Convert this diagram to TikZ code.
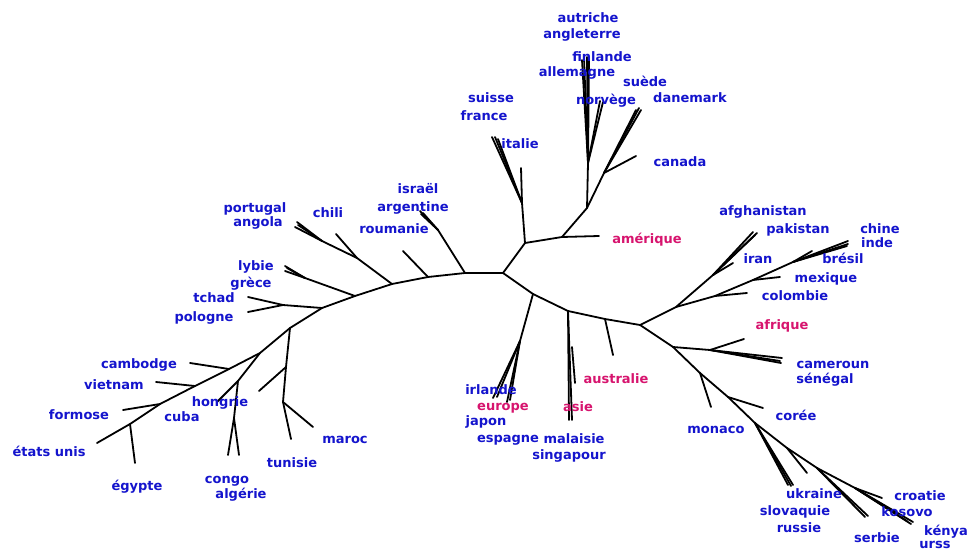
\documentclass[tikz,border=0pt]{standalone}
\usepackage{fontspec}
\setmainfont{DejaVu Sans}
\definecolor{lblue}{RGB}{20,20,205}
\definecolor{lmag}{RGB}{215,20,110}
\begin{document}
\begin{tikzpicture}[x=1pt,y=-1pt,
  br/.style={line width=1.8pt,black,line cap=round,line join=round},
  lbl/.style={text=lblue,font=\fontsize{13}{14}\selectfont\bfseries,inner sep=0pt,anchor=center,text height=9.5pt,text depth=0.5pt},
  grp/.style={lbl,text=lmag}]
\fill[white] (0,0) rectangle (971,551);
\useasboundingbox (0,0) rectangle (971,551);
% ---------- tree vertices ----------
\coordinate (c0) at (503,273);
% left arc
\coordinate (l1) at (465,273);
\coordinate (l1a) at (438,230);
\coordinate (tisr) at (420,211); \coordinate (targ) at (423,213); \coordinate (targb) at (421,214);
\coordinate (l2) at (428,277); \coordinate (trou) at (403,251);
\coordinate (l3) at (392,284);
\coordinate (l3a) at (357,258); \coordinate (tchi) at (336,234);
\coordinate (l3b) at (322,241);
\coordinate (tpor) at (297,222); \coordinate (tang) at (295,227); \coordinate (tangb) at (298,225);
\coordinate (l4) at (355,296);
\coordinate (l4a) at (305,278);
\coordinate (tlyb) at (285,266); \coordinate (tgre) at (285,271); \coordinate (tgreb) at (287,268);
\coordinate (l5) at (322,308);
\coordinate (l5a) at (283,305);
\coordinate (ttch) at (248,297); \coordinate (tpol) at (248,312);
\coordinate (l6) at (290,328);
\coordinate (v1) at (286,367); \coordinate (tv1) at (259,391);
\coordinate (v2) at (283,402);
\coordinate (ttun) at (291,439); \coordinate (tmar) at (313,427);
\coordinate (l7) at (260,353);
\coordinate (h1) at (238,381); \coordinate (thon) at (217,402);
\coordinate (h2) at (234,418);
\coordinate (tcon) at (228,455); \coordinate (talg) at (239,455);
\coordinate (l8) at (229,369); \coordinate (tcam) at (190,363);
\coordinate (l9) at (195,386); \coordinate (tvie) at (156,382);
\coordinate (l10) at (160,404); \coordinate (tfor) at (123,410);
\coordinate (l11) at (130,424); \coordinate (tegy) at (135,463);
\coordinate (tetu) at (97,443);
% upper
\coordinate (u1) at (525,243);
\coordinate (u2) at (522,203); \coordinate (tu2) at (521,168);
\coordinate (tsui) at (492,137); \coordinate (tfra) at (495,137); \coordinate (tita) at (498,139);
\coordinate (u3) at (562,237); \coordinate (tame) at (599,236);
\coordinate (u4) at (587,208);
\coordinate (u5) at (588,163);
\coordinate (taut) at (584,58); \coordinate (tang2) at (587,57); \coordinate (tfin) at (589,59); \coordinate (tall) at (582,60);
\coordinate (tnor) at (600,101); \coordinate (tnorb) at (603,102);
\coordinate (u6) at (604,173); \coordinate (tcan) at (636,156);
\coordinate (tsue) at (636,110); \coordinate (tdan) at (639,108); \coordinate (tdanb) at (641,110);
% lower right
\coordinate (r1) at (533,294);
\coordinate (r1a) at (520,341);
\coordinate (tirl) at (493,398); \coordinate (tjap) at (497,397); \coordinate (tesp) at (507,402); \coordinate (tespb) at (510,400);
\coordinate (r2) at (568,311);
\coordinate (r2a) at (572,347); \coordinate (tr2a) at (575,383);
\coordinate (tmal) at (569,420); \coordinate (tsin) at (572,420);
\coordinate (r3) at (605,319); \coordinate (taus) at (613,355);
\coordinate (r4) at (640,325);
\coordinate (a1) at (676,307);
\coordinate (a2) at (713,275); \coordinate (tira) at (733,263);
\coordinate (tafg) at (753,232); \coordinate (tpak) at (757,233); \coordinate (tpakb) at (755,235);
\coordinate (b1) at (715,296); \coordinate (tcol) at (747,293);
\coordinate (b2) at (753,280); \coordinate (tmex) at (780,277);
\coordinate (b3) at (793,262); \coordinate (tbre) at (812,251);
\coordinate (tchn) at (848,241); \coordinate (tind) at (848,244); \coordinate (tindb) at (847,246);
\coordinate (d1) at (673,347);
\coordinate (d2) at (710,350); \coordinate (tafr) at (744,339);
\coordinate (tcmr) at (782,358); \coordinate (tsen) at (780,361); \coordinate (tsenb) at (781,363);
\coordinate (d3) at (700,373); \coordinate (tmon) at (711,407);
\coordinate (d4) at (728,397); \coordinate (tcor) at (763,408);
\coordinate (d5) at (755,423);
\coordinate (tukr) at (788,485); \coordinate (tslo) at (791,486); \coordinate (trus) at (793,485);
\coordinate (d6) at (787,448); \coordinate (td6) at (807,473);
\coordinate (d7) at (817,468);
\coordinate (tser) at (865,517); \coordinate (tserb) at (868,516);
\coordinate (d8) at (855,488); \coordinate (tcro) at (882,498);
\coordinate (tkos) at (907,521); \coordinate (tken) at (911,524); \coordinate (turs) at (913,522);
% ---------- branches ----------
\draw[br] (c0) -- (l1) -- (l2) -- (l3) -- (l4) -- (l5) -- (l6) -- (l7) -- (l8) -- (l9) -- (l10) -- (l11) -- (tetu);
\draw[br] (l1) -- (l1a) -- (tisr); \draw[br] (l1a) -- (targ); \draw[br] (l1a) -- (targb);
\draw[br] (l2) -- (trou);
\draw[br] (l3) -- (l3a) -- (l3b) -- (tpor); \draw[br] (l3b) -- (tang); \draw[br] (l3b) -- (tangb);
\draw[br] (l3a) -- (tchi);
\draw[br] (l4) -- (l4a) -- (tlyb); \draw[br] (l4a) -- (tgre); \draw[br] (l4a) -- (tgreb);
\draw[br] (l5) -- (l5a) -- (ttch); \draw[br] (l5a) -- (tpol);
\draw[br] (l6) -- (v1) -- (v2) -- (ttun); \draw[br] (v2) -- (tmar); \draw[br] (v1) -- (tv1);
\draw[br] (l7) -- (h1) -- (thon); \draw[br] (h1) -- (h2) -- (tcon); \draw[br] (h2) -- (talg);
\draw[br] (l8) -- (tcam);
\draw[br] (l9) -- (tvie);
\draw[br] (l10) -- (tfor);
\draw[br] (l11) -- (tegy);
\draw[br] (c0) -- (u1) -- (u2) -- (tu2);
\draw[br] (u2) -- (tsui); \draw[br] (u2) -- (tfra); \draw[br] (u2) -- (tita);
\draw[br] (u1) -- (u3) -- (tame);
\draw[br] (u3) -- (u4) -- (u5) -- (tang2); \draw[br] (u5) -- (taut); \draw[br] (u5) -- (tfin); \draw[br] (u5) -- (tall);
\draw[br] (u5) -- (tnor); \draw[br] (u5) -- (tnorb);
\draw[br] (u4) -- (u6) -- (tcan);
\draw[br] (u6) -- (tsue); \draw[br] (u6) -- (tdan); \draw[br] (u6) -- (tdanb);
\draw[br] (c0) -- (r1) -- (r2) -- (r3) -- (r4);
\draw[br] (r1) -- (r1a) -- (tirl); \draw[br] (r1a) -- (tjap); \draw[br] (r1a) -- (tesp); \draw[br] (r1a) -- (tespb);
\draw[br] (r2) -- (tmal); \draw[br] (r2) -- (tsin); \draw[br] (r2a) -- (tr2a);
\draw[br] (r3) -- (taus);
\draw[br] (r4) -- (a1) -- (a2) -- (tafg); \draw[br] (a2) -- (tpak); \draw[br] (a2) -- (tpakb); \draw[br] (a2) -- (tira);
\draw[br] (a1) -- (b1) -- (b2) -- (b3) -- (tchn); \draw[br] (b3) -- (tind); \draw[br] (b3) -- (tindb);
\draw[br] (b1) -- (tcol); \draw[br] (b2) -- (tmex); \draw[br] (b3) -- (tbre);
\draw[br] (r4) -- (d1) -- (d2) -- (tcmr); \draw[br] (d2) -- (tsen); \draw[br] (d2) -- (tsenb); \draw[br] (d2) -- (tafr);
\draw[br] (d1) -- (d3) -- (d4) -- (d5) -- (d6) -- (d7) -- (tser); \draw[br] (d7) -- (tserb);
\draw[br] (d3) -- (tmon); \draw[br] (d4) -- (tcor);
\draw[br] (d5) -- (tukr); \draw[br] (d5) -- (tslo); \draw[br] (d5) -- (trus);
\draw[br] (d6) -- (td6);
\draw[br] (d7) -- (d8) -- (tcro); \draw[br] (d8) -- (tkos); \draw[br] (d8) -- (tken); \draw[br] (d8) -- (turs);
% ---------- labels ----------
\node[lbl] (n-autriche) at (588,18) {autriche};
\node[lbl] (n-angleterre) at (582,34) {angleterre};
\node[lbl] (n-finlande) at (602,57) {finlande};
\node[lbl] (n-allemagne) at (577,72) {allemagne};
\node[lbl] (n-suede) at (645,82) {suède};
\node[lbl] (n-norvege) at (606,100) {norvège};
\node[lbl] (n-danemark) at (690,98) {danemark};
\node[lbl] (n-suisse) at (491,98) {suisse};
\node[lbl] (n-france) at (484,116) {france};
\node[lbl] (n-italie) at (520,144) {italie};
\node[lbl] (n-canada) at (680,162) {canada};
\node[lbl] (n-israel) at (418,189) {israël};
\node[lbl] (n-argentine) at (413,207) {argentine};
\node[lbl] (n-roumanie) at (394,229) {roumanie};
\node[lbl] (n-portugal) at (255,208) {portugal};
\node[lbl] (n-angola) at (258,222) {angola};
\node[lbl] (n-chili) at (328,213) {chili};
\node[grp] (n-amerique) at (647,239) {amérique};
\node[lbl] (n-afghanistan) at (763,211) {afghanistan};
\node[lbl] (n-pakistan) at (798,229) {pakistan};
\node[lbl] (n-chine) at (880,229) {chine};
\node[lbl] (n-inde) at (877,243) {inde};
\node[lbl] (n-iran) at (758,259) {iran};
\node[lbl] (n-bresil) at (843,259) {brésil};
\node[lbl] (n-mexique) at (826,278) {mexique};
\node[lbl] (n-colombie) at (795,296) {colombie};
\node[lbl] (n-lybie) at (256,266) {lybie};
\node[lbl] (n-grece) at (251,283) {grèce};
\node[lbl] (n-tchad) at (214,298) {tchad};
\node[lbl] (n-pologne) at (204,317) {pologne};
\node[grp] (n-afrique) at (782,325) {afrique};
\node[lbl] (n-cambodge) at (139,364) {cambodge};
\node[lbl] (n-vietnam) at (114,385) {vietnam};
\node[lbl] (n-cameroun) at (833,364) {cameroun};
\node[lbl] (n-senegal) at (825,379) {sénégal};
\node[grp] (n-australie) at (616,379) {australie};
\node[lbl] (n-irlande) at (491,390) {irlande};
\node[lbl] (n-hongrie) at (220,402) {hongrie};
\node[grp] (n-europe) at (503,406) {europe};
\node[grp] (n-asie) at (578,407) {asie};
\node[lbl] (n-formose) at (79,415) {formose};
\node[lbl] (n-cuba) at (182,417) {cuba};
\node[lbl] (n-coree) at (796,416) {corée};
\node[lbl] (n-japon) at (486,421) {japon};
\node[lbl] (n-monaco) at (716,429) {monaco};
\node[lbl] (n-maroc) at (345,439) {maroc};
\node[lbl] (n-espagne) at (508,438) {espagne};
\node[lbl] (n-malaisie) at (574,439) {malaisie};
\node[lbl] (n-etatsunis) at (49,452) {états unis};
\node[lbl] (n-singapour) at (569,455) {singapour};
\node[lbl] (n-tunisie) at (292,463) {tunisie};
\node[lbl] (n-egypte) at (137,486) {égypte};
\node[lbl] (n-congo) at (227,479) {congo};
\node[lbl] (n-algerie) at (241,494) {algérie};
\node[lbl] (n-ukraine) at (814,494) {ukraine};
\node[lbl] (n-croatie) at (920,496) {croatie};
\node[lbl] (n-slovaquie) at (795,511) {slovaquie};
\node[lbl] (n-kosovo) at (907,512) {kosovo};
\node[lbl] (n-russie) at (799,528) {russie};
\node[lbl] (n-kenya) at (946,531) {kénya};
\node[lbl] (n-serbie) at (877,538) {serbie};
\node[lbl] (n-urss) at (935,544) {urss};
\end{tikzpicture}
\end{document}
